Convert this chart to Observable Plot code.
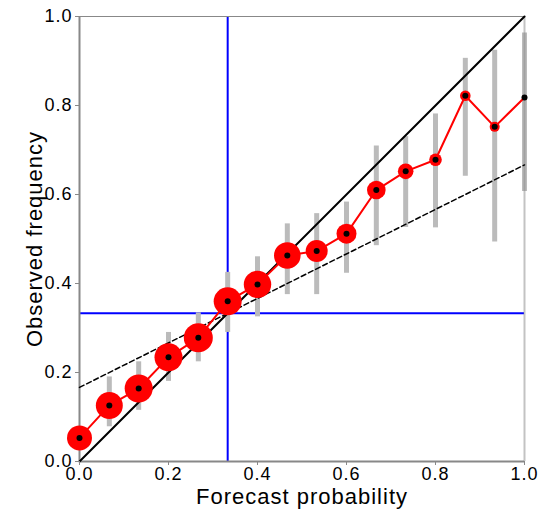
<!DOCTYPE html>
<html>
<head>
<meta charset="utf-8">
<script src="https://cdn.jsdelivr.net/npm/d3@7"></script>
<script src="https://cdn.jsdelivr.net/npm/@observablehq/plot@0.6"></script>
<style>
  html, body { margin: 0; padding: 0; background: #fff; }
  #chart { width: 541px; height: 510px; }
  #chart svg text { letter-spacing: 1px; }
</style>
</head>
<body>
<div id="chart"></div>
<script>
const forecast = [0, 0.067, 0.133, 0.2, 0.267, 0.333, 0.4, 0.467, 0.533, 0.6, 0.667, 0.733, 0.8, 0.867, 0.933, 1.0];
const observed = [0.053, 0.126, 0.164, 0.234, 0.278, 0.360, 0.398, 0.463, 0.473, 0.512, 0.610, 0.652, 0.678, 0.822, 0.752, 0.818];
const lower = [0.035, 0.078, 0.115, 0.180, 0.224, 0.290, 0.325, 0.375, 0.375, 0.423, 0.485, 0.526, 0.525, 0.641, 0.493, 0.607];
const upper = [0.075, 0.190, 0.224, 0.290, 0.334, 0.425, 0.460, 0.534, 0.557, 0.583, 0.709, 0.730, 0.781, 0.906, 0.924, 0.963];
const counts = [743, 867, 932, 932, 1000, 932, 893, 841, 576, 476, 411, 289, 189, 134, 119, 30];
const climatology = 0.333;
const ticks = [0, 0.2, 0.4, 0.6, 0.8, 1.0];
const refEnds = [0, 1];

const bins = forecast.map((f, i) => ({f, o: observed[i], lo: lower[i], hi: upper[i], n: counts[i]}));
const diagonal = refEnds.map(v => ({x: v, y: v}));
const noSkill = refEnds.map(v => ({x: v, y: (v + climatology) / 2}));

const font = "Liberation Sans, Arial, Helvetica, sans-serif";

const chart = Plot.plot({
  width: 541,
  height: 510,
  marginLeft: 79,
  marginRight: 17,
  marginTop: 16,
  marginBottom: 49,
  style: {fontFamily: font, background: "#fff", overflow: "visible"},
  x: {domain: [0, 1]},
  y: {domain: [0, 1]},
  r: {type: "sqrt", domain: [0, 1000], range: [0, 14.5]},
  marks: [
    Plot.ruleX([climatology], {y1: 0, y2: 1, stroke: "#0000ff", strokeWidth: 2}),
    Plot.ruleY([climatology], {x1: 0, x2: 1, stroke: "#0000ff", strokeWidth: 2}),
    Plot.ruleX(bins, {x: "f", y1: "lo", y2: "hi", stroke: "#bbbbbb", strokeWidth: 5}),
    Plot.ruleY([1], {x1: 0, x2: 1, stroke: "#888", strokeWidth: 1.2}),
    Plot.ruleX([1], {y1: 0, y2: 1, stroke: "#888", strokeOpacity: 0.5, strokeWidth: 2}),
    Plot.ruleX([0], {y1: 0, y2: 1, stroke: "#888", strokeWidth: 2}),
    Plot.ruleY([0], {x1: 0, x2: 1, stroke: "#888", strokeWidth: 2}),
    Plot.line(noSkill, {x: "x", y: "y", stroke: "black", strokeWidth: 1.5, strokeDasharray: "5,3"}),
    Plot.line(diagonal, {x: "x", y: "y", stroke: "black", strokeWidth: 2}),
    Plot.line(bins, {x: "f", y: "o", stroke: "#ff0000", strokeWidth: 2}),
    Plot.dot(bins, {x: "f", y: "o", r: "n", fill: "#ff0000", stroke: "none"}),
    Plot.dot(bins, {x: "f", y: "o", r: 3, fill: "black", stroke: "none"}),
    Plot.axisX({ticks, tickSize: 4, tickPadding: 2, tickFormat: d3.format(".1f"), stroke: "#888", fill: "black", fontSize: 18, label: null}),
    Plot.axisY({ticks, tickSize: 4, tickPadding: 3, tickFormat: d3.format(".1f"), stroke: "#888", fill: "black", fontSize: 18, label: null}),
    Plot.text(["Forecast probability"], {frameAnchor: "bottom", dy: 35, fontSize: 22, fill: "black", textAnchor: "middle", lineAnchor: "middle"}),
    Plot.text(["Observed frequency"], {frameAnchor: "left", dx: -45, rotate: -90, fontSize: 22, fill: "black", textAnchor: "middle", lineAnchor: "middle"})
  ]
});
document.getElementById("chart").appendChild(chart);
</script>
</body>
</html>
